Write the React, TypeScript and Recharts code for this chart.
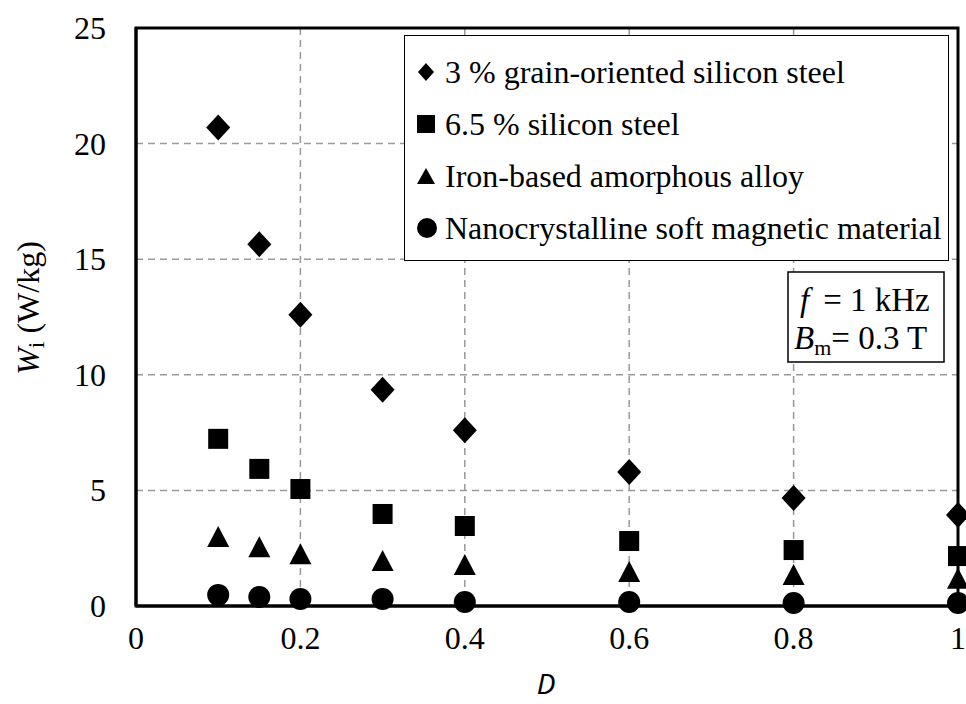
import React from 'react'
import { ScatterChart, Scatter, XAxis, YAxis, CartesianGrid, ReferenceArea } from 'recharts'

const dutyCycles = [0.1, 0.15, 0.2, 0.3, 0.4, 0.6, 0.8, 1.0]
const grainOriented = [20.7, 15.65, 12.6, 9.35, 7.6, 5.8, 4.67, 3.94]
const silicon65 = [7.23, 5.93, 5.06, 3.98, 3.46, 2.81, 2.42, 2.16]
const amorphous = [2.94, 2.5, 2.2, 1.9, 1.73, 1.43, 1.3, 1.13]
const nanocrystalline = [0.48, 0.39, 0.3, 0.3, 0.17, 0.17, 0.13, 0.13]

const xTicks = [0, 0.2, 0.4, 0.6, 0.8, 1]
const yTicks = [0, 5, 10, 15, 20, 25]

const seriesNames = [
  '3 % grain-oriented silicon steel',
  '6.5 % silicon steel',
  'Iron-based amorphous alloy',
  'Nanocrystalline soft magnetic material',
]

const toPoints = (ys: number[]) => dutyCycles.map((d, i) => ({ d, w: ys[i] }))

const font = '"Liberation Serif", "Times New Roman", serif'

const Diamond = ({ cx, cy }: any) => (
  <path d={`M${cx},${cy - 13} L${cx + 12},${cy} L${cx},${cy + 13} L${cx - 12},${cy} Z`} fill="#000" />
)
const Square = ({ cx, cy }: any) => <rect x={cx - 10} y={cy - 10} width={20} height={20} fill="#000" />
const Triangle = ({ cx, cy }: any) => (
  <path d={`M${cx},${cy - 12} L${cx + 11},${cy + 9} L${cx - 11},${cy + 9} Z`} fill="#000" />
)
const Circle = ({ cx, cy }: any) => <circle cx={cx} cy={cy} r={11} fill="#000" />

const XTick = ({ x, y, payload }: any) => (
  <text x={x} y={y + 35} textAnchor="middle" fill="#000" fontFamily={font} fontSize={32}>
    {String(payload.value)}
  </text>
)
const YTick = ({ x, y, payload }: any) => (
  <text x={x - 22} y={y + 11} textAnchor="end" fill="#000" fontFamily={font} fontSize={32}>
    {String(payload.value)}
  </text>
)

const legendGlyphs = [
  <path d="M9,2 L17,11 L9,20 L1,11 Z" fill="#000" />,
  <rect x={0} y={2} width={18} height={18} fill="#000" />,
  <path d="M9,3 L18,19 L0,19 Z" fill="#000" />,
  <circle cx={10} cy={11} r={10} fill="#000" />,
]

export default function App() {
  return (
    <div style={{ position: 'absolute', left: 0, top: 0, width: 966, height: 704, background: '#fff' }}>
      <ScatterChart width={966} height={704} margin={{ top: 28, right: 8, bottom: 0, left: 0 }}>
        <CartesianGrid stroke="#999" strokeDasharray="7 5" strokeWidth={1.5} />
        <XAxis
          type="number"
          dataKey="d"
          domain={[0, 1]}
          ticks={xTicks}
          axisLine={{ stroke: '#000', strokeWidth: 3 }}
          tickLine={false}
          tick={<XTick />}
          height={98}
        />
        <YAxis
          type="number"
          dataKey="w"
          domain={[0, 25]}
          ticks={yTicks}
          axisLine={{ stroke: '#000', strokeWidth: 3 }}
          tickLine={false}
          tick={<YTick />}
          width={136}
        />
        <ReferenceArea x1={0} x2={1} y1={0} y2={25} fill="none" stroke="#000" strokeWidth={3} ifOverflow="visible" />
        <Scatter name={seriesNames[0]} data={toPoints(grainOriented)} shape={Diamond} isAnimationActive={false} />
        <Scatter name={seriesNames[1]} data={toPoints(silicon65)} shape={Square} isAnimationActive={false} />
        <Scatter name={seriesNames[2]} data={toPoints(amorphous)} shape={Triangle} isAnimationActive={false} />
        <Scatter name={seriesNames[3]} data={toPoints(nanocrystalline)} shape={Circle} isAnimationActive={false} />
      </ScatterChart>

      <svg width={966} height={704} style={{ position: 'absolute', left: 0, top: 0, pointerEvents: 'none' }}>
        <text
          x={0}
          y={0}
          transform="translate(39 308) rotate(-90)"
          textAnchor="middle"
          fill="#000"
          fontFamily={font}
          fontSize={32}
        >
          <tspan fontStyle="italic">W</tspan>
          <tspan fontSize={24} dy={5}>i</tspan>
          <tspan dy={-5}> (W/kg)</tspan>
        </text>
        <text
          x={546}
          y={694}
          textAnchor="middle"
          fill="#000"
          fontFamily='"Noto Sans", sans-serif'
          fontStyle="italic"
          fontSize={28}
        >
          D
        </text>
        <rect x={788} y={272} width={156} height={90} fill="#fff" stroke="#000" strokeWidth={1.5} />
        <text x={800} y={311} fill="#000" fontFamily={font} fontSize={33}>
          <tspan fontStyle="italic">f</tspan>
          <tspan dx={14}>= 1 kHz</tspan>
        </text>
        <text x={794} y={349} fill="#000" fontFamily={font} fontSize={33}>
          <tspan fontStyle="italic">B</tspan>
          <tspan fontSize={22} dy={6}>m</tspan>
          <tspan dy={-6}>= 0.3 T</tspan>
        </text>
      </svg>

      <div
        style={{
          position: 'absolute',
          left: 404,
          top: 35,
          width: 545,
          height: 226,
          border: '1.5px solid #000',
          background: '#fff',
          boxSizing: 'border-box',
          padding: '10px 0 0 12px',
          fontFamily: font,
          fontSize: 32,
        }}
      >
        {seriesNames.map((n, i) => (
          <div key={n} style={{ display: 'flex', alignItems: 'center', height: 52 }}>
            <svg width={20} height={22} style={{ marginRight: 8, flex: 'none' }}>
              {legendGlyphs[i]}
            </svg>
            <span style={{ whiteSpace: 'nowrap' }}>{n}</span>
          </div>
        ))}
      </div>
    </div>
  )
}
